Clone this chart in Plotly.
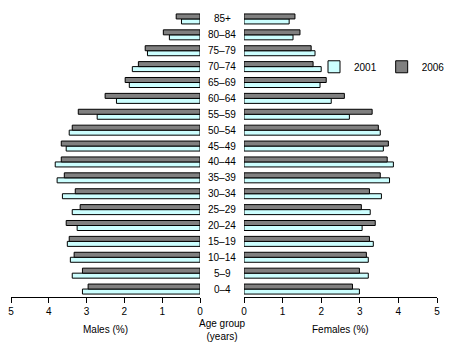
import plotly.graph_objects as go

ages = ["0–4", "5–9", "10–14", "15–19", "20–24", "25–29", "30–34", "35–39", "40–44",
        "45–49", "50–54", "55–59", "60–64", "65–69", "70–74", "75–79", "80–84", "85+"]

males_2001 = [3.11, 3.38, 3.43, 3.51, 3.25, 3.38, 3.64, 3.78, 3.83,
              3.54, 3.46, 2.72, 2.21, 1.87, 1.79, 1.39, 0.81, 0.49]
males_2006 = [2.96, 3.11, 3.33, 3.46, 3.54, 3.17, 3.30, 3.59, 3.67,
              3.67, 3.38, 3.22, 2.51, 1.98, 1.63, 1.45, 0.97, 0.63]
females_2001 = [2.99, 3.22, 3.22, 3.35, 3.06, 3.27, 3.56, 3.77, 3.87,
                3.61, 3.53, 2.73, 2.26, 1.97, 2.00, 1.84, 1.27, 1.17]
females_2006 = [2.81, 2.99, 3.17, 3.25, 3.40, 3.04, 3.25, 3.53, 3.71,
                3.74, 3.48, 3.32, 2.60, 2.13, 1.79, 1.74, 1.45, 1.32]

x_ticks = [0, 1, 2, 3, 4, 5]

C2001 = "#CCFFFF"
C2006 = "#808080"
FONT = "Liberation Sans, Arial, sans-serif"

fig = go.Figure()
line = dict(color="black", width=1)
fig.add_trace(go.Bar(y=ages, x=males_2001, orientation="h", marker=dict(color=C2001, line=line),
                     name="2001", xaxis="x", yaxis="y", showlegend=True))
fig.add_trace(go.Bar(y=ages, x=males_2006, orientation="h", marker=dict(color=C2006, line=line),
                     name="2006", xaxis="x", yaxis="y", showlegend=True))
fig.add_trace(go.Bar(y=ages, x=females_2001, orientation="h", marker=dict(color=C2001, line=line),
                     name="2001", xaxis="x2", yaxis="y2", showlegend=False))
fig.add_trace(go.Bar(y=ages, x=females_2006, orientation="h", marker=dict(color=C2006, line=line),
                     name="2006", xaxis="x2", yaxis="y2", showlegend=False))

xcommon = dict(showline=True, linecolor="black", linewidth=1, ticks="outside", ticklen=5,
               tickcolor="black", tickvals=x_ticks, ticktext=[str(t) for t in x_ticks],
               showgrid=False, zeroline=False, tickfont=dict(size=10, color="black", family=FONT),
               fixedrange=True, automargin=False)
ycommon = dict(showgrid=False, showline=False, showticklabels=False, zeroline=False,
               categoryorder="array", categoryarray=ages, range=[-0.5, len(ages) - 0.5],
               automargin=False)

W = 450
fig.update_layout(
    width=450, height=351,
    margin=dict(l=0, r=0, t=11, b=54, autoexpand=False),
    paper_bgcolor="white", plot_bgcolor="white",
    barmode="group", bargap=0.37, bargroupgap=0,
    font=dict(family=FONT, size=10, color="black"),
    xaxis=dict(domain=[11 / W, 200 / W], range=[5, 0], anchor="y", **xcommon),
    xaxis2=dict(domain=[244 / W, 437 / W], range=[0, 5], anchor="y2", **xcommon),
    yaxis=dict(anchor="x", **ycommon),
    yaxis2=dict(anchor="x2", **ycommon),
    legend=dict(orientation="h", x=314 / W, y=0.805, xanchor="left", yanchor="middle",
                font=dict(size=10, family=FONT), bgcolor="rgba(0,0,0,0)",
                itemwidth=30, tracegroupgap=0),
    showlegend=True,
)

for a in ages:
    fig.add_annotation(x=222 / W, xref="paper", y=a, yref="y", text=a, showarrow=False,
                       xanchor="center", yanchor="middle", font=dict(size=10, family=FONT))

fig.add_annotation(x=105 / W, xref="paper", y=-0.115, yref="paper", text="Males (%)",
                   showarrow=False, xanchor="center", yanchor="middle", font=dict(size=10))
fig.add_annotation(x=340 / W, xref="paper", y=-0.115, yref="paper", text="Females (%)",
                   showarrow=False, xanchor="center", yanchor="middle", font=dict(size=10))
fig.add_annotation(x=222 / W, xref="paper", y=-0.115, yref="paper", text="Age group<br>(years)",
                   showarrow=False, xanchor="center", yanchor="middle", font=dict(size=10))

fig.write_html("out.html")
